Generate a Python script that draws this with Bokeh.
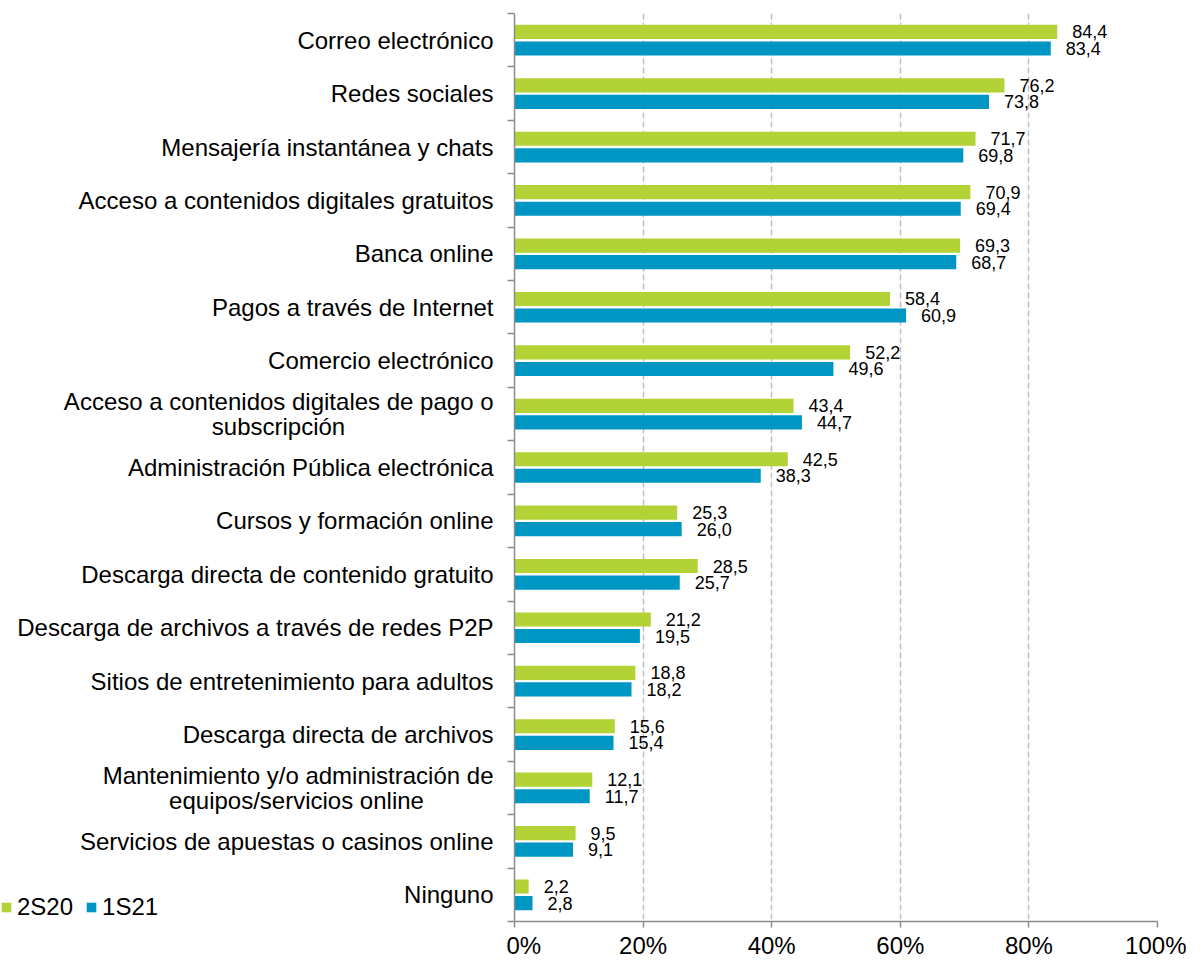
from bokeh.plotting import figure
from bokeh.layouts import row
from bokeh.models import (Range1d, FixedTicker, ColumnDataSource,
                          LabelSet, Legend, LegendItem, PrintfTickFormatter)
from bokeh.core.properties import value
from bokeh.embed import file_html
from bokeh.resources import INLINE

# ---------------- data ----------------
categories = [
    "Correo electrónico",
    "Redes sociales",
    "Mensajería instantánea y chats",
    "Acceso a contenidos digitales gratuitos",
    "Banca online",
    "Pagos a través de Internet",
    "Comercio electrónico",
    "Acceso a contenidos digitales de pago o\nsubscripción",
    "Administración Pública electrónica",
    "Cursos y formación online",
    "Descarga directa de contenido gratuito",
    "Descarga de archivos a través de redes P2P",
    "Sitios de entretenimiento para adultos",
    "Descarga directa de archivos",
    "Mantenimiento y/o administración de\nequipos/servicios online",
    "Servicios de apuestas o casinos online",
    "Ninguno",
]
values_2S20 = [84.4, 76.2, 71.7, 70.9, 69.3, 58.4, 52.2, 43.4, 42.5, 25.3, 28.5, 21.2, 18.8, 15.6, 12.1, 9.5, 2.2]
values_1S21 = [83.4, 73.8, 69.8, 69.4, 68.7, 60.9, 49.6, 44.7, 38.3, 26.0, 25.7, 19.5, 18.2, 15.4, 11.7, 9.1, 2.8]
series_names = ["2S20", "1S21"]
x_ticks = [0, 20, 40, 60, 80, 100]

# ---------------- style / layout ----------------
FONT = "Liberation Sans"
GREEN = "#B2D235"
BLUE = "#0096C4"
AXIS = "#8C8C8C"
GRID = "#BFBFBF"
BAR_H = 0.265
BAR_OFF = 0.155
LINE_OFF = 0.23
H = 961
LEFT_W = 506          # panel holding category names + legend
MAIN_W = 1186 - LEFT_W
TOP, BOTTOM = 13, 40  # borders shared by both panels so their frames line up
LABEL_DX = -13        # px from the left panel's right edge to the label's right edge
# centre offset (px) of the second line of a wrapped label = LABEL_DX - width of first line / 2
SECOND_LINE_DX = [-228, -210]

n = len(categories)
centers = [i + 0.5 for i in range(n)]          # category slot centres on the index scale


def fmt(v):
    return f"{v:.1f}".replace(".", ",")


# ================= main plot =================
p = figure(width=MAIN_W, height=H,
           y_range=Range1d(n, 0),
           x_range=Range1d(0, 100),
           output_backend="svg", toolbar_location=None,
           min_border_left=8, min_border_right=29, min_border_top=TOP, min_border_bottom=BOTTOM)
p.outline_line_color = None
p.background_fill_color = "white"

src = ColumnDataSource(dict(
    ya=[c - BAR_OFF for c in centers], yb=[c + BAR_OFF for c in centers],
    a=values_2S20, b=values_1S21,
    a_lbl=[fmt(v) for v in values_2S20],
    b_lbl=[fmt(v) for v in values_1S21]))

p.hbar(y="ya", left=0, right="a", height=BAR_H, fill_color=GREEN, line_color=None, source=src)
p.hbar(y="yb", left=0, right="b", height=BAR_H, fill_color=BLUE, line_color=None, source=src)

for col, ycol in (("a", "ya"), ("b", "yb")):
    p.add_layout(LabelSet(x=col, y=ycol, text=col + "_lbl",
                          x_offset=15, text_baseline="middle", text_align="left",
                          text_font=value(FONT), text_font_size="18px", text_color="black",
                          source=src))

# y axis: line + ticks at category boundaries (names are drawn in the left panel)
ya = p.yaxis[0]
bounds = list(range(n + 1))
ya.ticker = FixedTicker(ticks=bounds)
ya.major_label_overrides = {b: "" for b in bounds}
ya.major_label_standoff = 0
ya.major_tick_out = 7
ya.major_tick_in = 0
ya.minor_tick_out = 0
ya.minor_tick_in = 0
ya.axis_line_color = AXIS
ya.major_tick_line_color = AXIS
ya.axis_line_width = 1.5
ya.major_tick_line_width = 1.5

# x axis
xt = FixedTicker(ticks=x_ticks)
xa = p.xaxis[0]
xa.ticker = xt
xa.formatter = PrintfTickFormatter(format="%d%%")
xa.major_label_text_font = FONT
xa.major_label_text_font_size = "24px"
xa.major_label_text_color = "black"
xa.major_label_standoff = 4
xa.major_tick_out = 6
xa.major_tick_in = 0
xa.minor_tick_out = 0
xa.minor_tick_in = 0
xa.axis_line_color = AXIS
xa.major_tick_line_color = AXIS
xa.axis_line_width = 1.5
xa.major_tick_line_width = 1.5

p.xgrid.ticker = xt
p.xgrid.grid_line_color = GRID
p.xgrid.grid_line_dash = "6 3"
p.xgrid.grid_line_width = 1.5
p.ygrid.visible = False

# ================= left panel: category names + legend =================
q = figure(width=LEFT_W, height=H,
           y_range=Range1d(n, 0),
           x_range=Range1d(0, 1),
           x_axis_location=None, y_axis_location=None,
           output_backend="svg", toolbar_location=None,
           min_border_left=0, min_border_right=0,
           min_border_top=TOP, min_border_bottom=BOTTOM)
q.outline_line_color = None
q.grid.visible = False

single_y, single_t = [], []
wrap_y1, wrap_y2, wrap_t1, wrap_t2 = [], [], [], []
for c, y in zip(categories, centers):
    if "\n" in c:
        l1, l2 = c.split("\n")
        wrap_y1.append(y - LINE_OFF)
        wrap_y2.append(y + LINE_OFF)
        wrap_t1.append(l1)
        wrap_t2.append(l2)
    else:
        single_y.append(y)
        single_t.append(c)

txt_kw = dict(text_font=value(FONT), text_font_size="24px", text_color="black", text_baseline="middle")
q.text(x=1, y="y", text="t", x_offset=LABEL_DX, text_align="right",
       source=ColumnDataSource(dict(y=single_y, t=single_t)), **txt_kw)
q.text(x=1, y="y", text="t", x_offset=LABEL_DX, text_align="right",
       source=ColumnDataSource(dict(y=wrap_y1, t=wrap_t1)), **txt_kw)
q.text(x=1, y="y", text="t", x_offset="dx", text_align="center",
       source=ColumnDataSource(dict(y=wrap_y2, t=wrap_t2, dx=SECOND_LINE_DX[:len(wrap_t2)])),
       **txt_kw)

# legend swatches: zero-length bars that only lend their colour to the legend
swatch = ColumnDataSource(dict(y=[centers[0]], l=[0], r=[0]))
la = q.hbar(y="y", left="l", right="r", height=BAR_H, fill_color=GREEN, line_color=None, source=swatch)
lb = q.hbar(y="y", left="l", right="r", height=BAR_H, fill_color=BLUE, line_color=None, source=swatch)
legend = Legend(items=[LegendItem(label=series_names[0], renderers=[la]),
                       LegendItem(label=series_names[1], renderers=[lb])],
                location=(0, 0), orientation="horizontal",
                border_line_color=None, background_fill_alpha=0,
                padding=0, margin=0, spacing=12, label_standoff=5,
                glyph_width=12, glyph_height=12,
                label_text_font=FONT, label_text_font_size="24px", label_text_color="black")
q.add_layout(legend, "center")

layout = row(q, p)
open("out.html", "w").write(file_html(layout, INLINE))
